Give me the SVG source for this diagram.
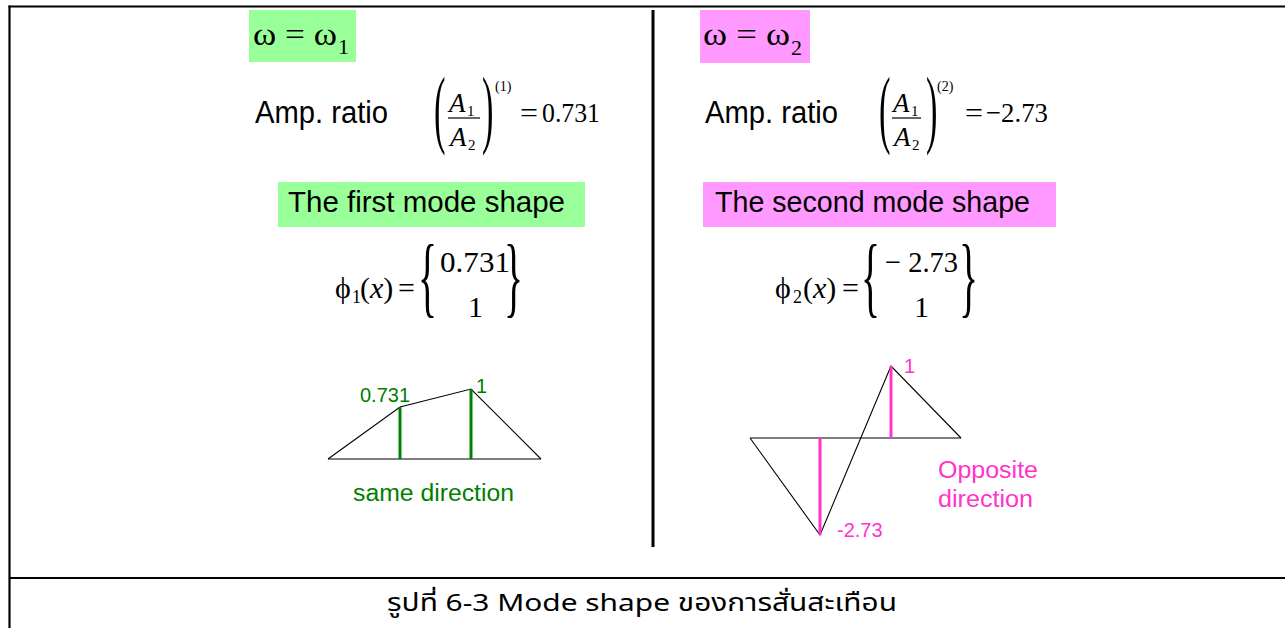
<svg xmlns="http://www.w3.org/2000/svg" width="1285" height="628" viewBox="0 0 1285 628">
<style>
.s{font-family:"Liberation Sans",Arial,sans-serif;fill:#000}
.m{font-family:"Liberation Serif","Times New Roman",serif;fill:#000}
.i{font-style:italic}
.g{fill:#008000}
.p{fill:#ff33cc}
.frame{stroke:#000;fill:none}
.shape{stroke:#000;stroke-width:1.1;fill:none}
.gl{stroke:#008000;stroke-width:3}
.pl{stroke:#ff33cc;stroke-width:3}
.bar{stroke:#000;stroke-width:1.2}
</style>
<rect width="1285" height="628" fill="#fff"/>
<g id="frame">
<line class="frame" x1="9.5" y1="5.5" x2="9.5" y2="628" stroke-width="2.2"/>
<line class="frame" x1="8.5" y1="6.5" x2="1285" y2="6.5" stroke-width="2.2"/>
<line class="frame" x1="9" y1="578" x2="1285" y2="578" stroke-width="2.2"/>
<line class="frame" x1="653" y1="10" x2="653" y2="547" stroke-width="3"/>
</g>
<g id="left-omega">
<rect x="249" y="10" width="107" height="52" fill="#99ff99"/>
<text class="m" x="253" y="45" font-size="32" textLength="84" lengthAdjust="spacingAndGlyphs">ω = ω</text>
<text class="m" x="338" y="54" font-size="22">1</text>
</g>
<g id="left-ratio">
<text class="s" x="255" y="123" font-size="31" textLength="133" lengthAdjust="spacingAndGlyphs">Amp. ratio</text>
<text class="m" transform="translate(434,137) scale(0.4,1)" font-size="86">(</text>
<text class="m i" x="449" y="112" font-size="27">A</text>
<text class="m" x="467" y="116" font-size="15">1</text>
<line class="bar" x1="448" y1="118" x2="480" y2="118"/>
<text class="m i" x="450" y="146" font-size="27">A</text>
<text class="m" x="468" y="150" font-size="15">2</text>
<text class="m" transform="translate(482,137) scale(0.4,1)" font-size="86">)</text>
<text class="m" x="495" y="91" font-size="14">(1)</text>
<text class="m" x="520" y="122" font-size="28" textLength="18" lengthAdjust="spacingAndGlyphs">=</text>
<text class="m" x="542" y="122" font-size="28" textLength="58" lengthAdjust="spacingAndGlyphs">0.731</text>
</g>
<g id="left-title">
<rect x="278" y="182" width="307" height="45" fill="#99ff99"/>
<text class="s" x="288" y="212" font-size="29.5" textLength="277" lengthAdjust="spacingAndGlyphs">The first mode shape</text>
</g>
<g id="left-vector">
<text class="m" x="335" y="298" font-size="30">ϕ</text>
<text class="m" x="352" y="303" font-size="18">1</text>
<text class="m" x="360" y="298" font-size="30">(<tspan class="i">x</tspan>)</text>
<text class="m" x="398" y="298" font-size="30">=</text>
<text class="m" transform="translate(418,306) scale(0.45,1)" font-size="88">{</text>
<text class="m" x="440" y="272" font-size="30" textLength="70" lengthAdjust="spacingAndGlyphs">0.731</text>
<text class="m" x="468" y="317" font-size="30">1</text>
<text class="m" transform="translate(504,306) scale(0.45,1)" font-size="88">}</text>
</g>
<g id="left-mode">
<line class="shape" x1="328" y1="459" x2="541" y2="459"/>
<polyline class="shape" points="328,459 400,407 471,389 541,459"/>
<line class="gl" x1="400" y1="407" x2="400" y2="459"/>
<line class="gl" x1="471" y1="389" x2="471" y2="459"/>
<text class="s g" x="360" y="402" font-size="20">0.731</text>
<text class="s g" x="476" y="393" font-size="20">1</text>
<text class="s g" x="353" y="501" font-size="23" textLength="161" lengthAdjust="spacingAndGlyphs">same direction</text>
</g>
<g id="right-omega">
<rect x="700" y="10" width="110" height="53" fill="#ff99ff"/>
<text class="m" x="703" y="45" font-size="32" textLength="87" lengthAdjust="spacingAndGlyphs">ω = ω</text>
<text class="m" x="791" y="55" font-size="22">2</text>
</g>
<g id="right-ratio">
<text class="s" x="705" y="123" font-size="31" textLength="133" lengthAdjust="spacingAndGlyphs">Amp. ratio</text>
<text class="m" transform="translate(879,137) scale(0.4,1)" font-size="86">(</text>
<text class="m i" x="893" y="112" font-size="27">A</text>
<text class="m" x="911" y="116" font-size="15">1</text>
<line class="bar" x1="892" y1="118" x2="921" y2="118"/>
<text class="m i" x="894" y="146" font-size="27">A</text>
<text class="m" x="912" y="150" font-size="15">2</text>
<text class="m" transform="translate(926,137) scale(0.4,1)" font-size="86">)</text>
<text class="m" x="937" y="91" font-size="14">(2)</text>
<text class="m" x="965" y="122" font-size="28" textLength="18" lengthAdjust="spacingAndGlyphs">=</text>
<text class="m" x="986" y="122" font-size="28" textLength="62" lengthAdjust="spacingAndGlyphs">−2.73</text>
</g>
<g id="right-title">
<rect x="703" y="182" width="353" height="45" fill="#ff99ff"/>
<text class="s" x="715" y="212" font-size="29.5" textLength="315" lengthAdjust="spacingAndGlyphs">The second mode shape</text>
</g>
<g id="right-vector">
<text class="m" x="775" y="298" font-size="30">ϕ</text>
<text class="m" x="793" y="303" font-size="18">2</text>
<text class="m" x="803" y="298" font-size="30">(<tspan class="i">x</tspan>)</text>
<text class="m" x="842" y="298" font-size="30">=</text>
<text class="m" transform="translate(861,306) scale(0.45,1)" font-size="88">{</text>
<text class="m" x="885" y="272" font-size="30" textLength="73" lengthAdjust="spacingAndGlyphs">− 2.73</text>
<text class="m" x="914" y="317" font-size="30">1</text>
<text class="m" transform="translate(959,306) scale(0.45,1)" font-size="88">}</text>
</g>
<g id="right-mode">
<line class="shape" x1="750" y1="438" x2="961" y2="438"/>
<polyline class="shape" points="750,438 820,535 891,366 961,438"/>
<line class="pl" x1="820" y1="438" x2="820" y2="535"/>
<line class="pl" x1="891" y1="366" x2="891" y2="438"/>
<text class="s p" x="904" y="373" font-size="20">1</text>
<text class="s p" x="837" y="537" font-size="20">-2.73</text>
<text class="s p" x="938" y="478" font-size="23" textLength="100" lengthAdjust="spacingAndGlyphs">Opposite</text>
<text class="s p" x="938" y="507" font-size="23" textLength="95" lengthAdjust="spacingAndGlyphs">direction</text>
</g>
<g id="caption">
<text x="387" y="611" font-family="'Noto Sans Thai','Liberation Sans','Noto Sans',sans-serif" font-size="24" textLength="510" lengthAdjust="spacingAndGlyphs">รูปที่ 6-3 Mode shape ของการสั่นสะเทือน</text>
</g>
</svg>
